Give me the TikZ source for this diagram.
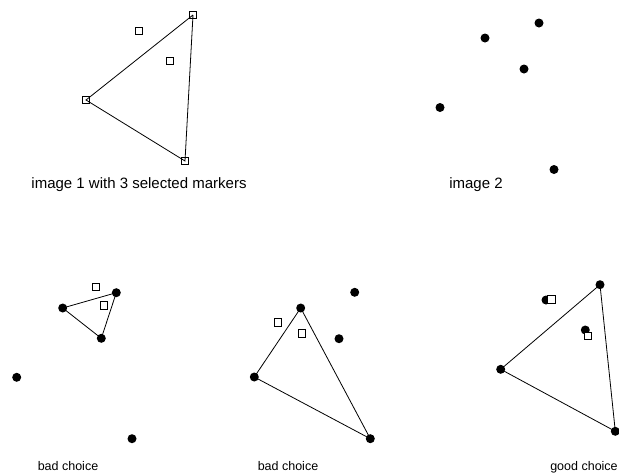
\documentclass[tikz,border=0pt]{standalone}
\usepackage{fontspec}
\setmainfont{Liberation Sans}
\begin{document}
\begin{tikzpicture}[x=1pt,y=-1pt,
  dot/.style={circle,fill=black,inner sep=0pt,minimum size=9pt},
  sq/.style={rectangle,draw=black,fill=white,line width=0.7pt,inner sep=0pt,minimum size=7.5pt},
  osq/.style={rectangle,draw=black,line width=0.7pt,inner sep=0pt,minimum size=7.5pt},
  edge/.style={draw=black,line width=0.8pt},
  lbl/.style={anchor=base,inner sep=0pt,font=\fontsize{15}{18}\selectfont},
  slbl/.style={anchor=base,inner sep=0pt,font=\fontsize{12.5}{15}\selectfont}]
\useasboundingbox (0,0) rectangle (619,475);
% image 1
\node[osq] (a1) at (193,15) {};
\node[osq] (a2) at (139,31) {};
\node[osq] (a3) at (170,61) {};
\node[osq] (a4) at (86,100) {};
\node[osq] (a5) at (185,161) {};
\draw[edge] (a1.center) -- (a4.center) -- (a5.center) -- (a1.center);
\node[lbl] (l1) at (139,188) {image 1 with 3 selected markers};
% image 2
\node[dot] (b1) at (539,23) {};
\node[dot] (b2) at (485,38) {};
\node[dot] (b3) at (524,69) {};
\node[dot] (b4) at (440,107.5) {};
\node[dot] (b5) at (554,169.5) {};
\node[lbl] (l2) at (476,188) {image 2};
% bad choice 1
\node[dot] (c1) at (116.3,292.7) {};
\node[dot] (c2) at (62.7,308) {};
\node[dot] (c3) at (101.3,338.3) {};
\node[dot] (c4) at (16.7,377.3) {};
\node[dot] (c5) at (132,438.7) {};
\draw[edge] (c2.center) -- (c1.center) -- (c3.center) -- (c2.center);
\node[sq] (cs1) at (96,286.7) {};
\node[sq] (cs2) at (103.7,305.3) {};
\node[slbl] (l3) at (68,470) {bad choice};
% bad choice 2
\node[dot] (d1) at (354.7,292.3) {};
\node[dot] (d2) at (300.7,308) {};
\node[dot] (d3) at (339,338.7) {};
\node[dot] (d4) at (254.3,377) {};
\node[dot] (d5) at (370.3,438.7) {};
\draw[edge] (d2.center) -- (d4.center) -- (d5.center) -- (d2.center);
\node[sq] (ds1) at (278,322.3) {};
\node[sq] (ds2) at (302,333.3) {};
\node[slbl] (l4) at (288,470) {bad choice};
% good choice
\node[dot] (e1) at (600,284.7) {};
\node[dot] (e2) at (546,300) {};
\node[dot] (e3) at (585.3,330) {};
\node[dot] (e4) at (500.7,369.3) {};
\node[dot] (e5) at (615.3,431.3) {};
\draw[edge] (e1.center) -- (e4.center) -- (e5.center) -- (e1.center);
\node[sq] (es1) at (551.3,299.3) {};
\node[sq] (es2) at (588,335.7) {};
\node[slbl] (l5) at (584,470) {good choice};
\end{tikzpicture}
\end{document}
